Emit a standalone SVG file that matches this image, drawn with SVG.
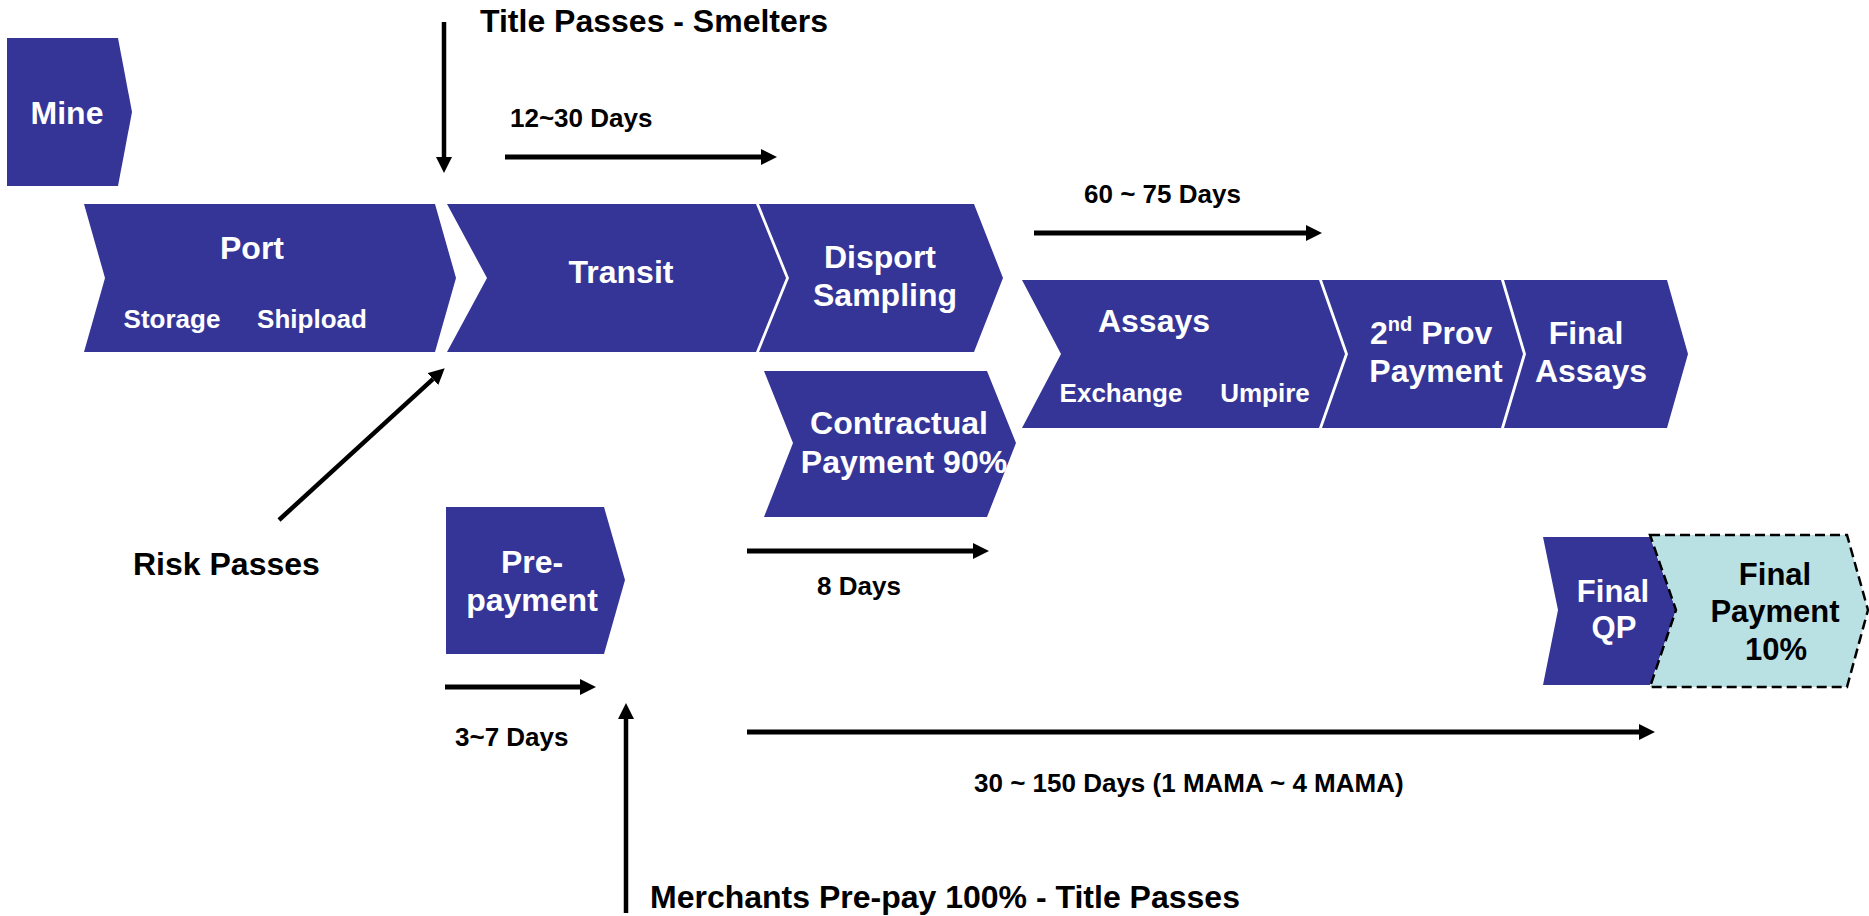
<svg xmlns="http://www.w3.org/2000/svg" width="1869" height="916" viewBox="0 0 1869 916">
<defs>
<marker id="ah" markerUnits="userSpaceOnUse" markerWidth="16" markerHeight="16" refX="0" refY="8" orient="auto" viewBox="0 0 16 16">
<path d="M0,0 L16,8 L0,16 z" fill="#000"/>
</marker>
</defs>
<style>
.ch{fill:#353598;}
.fp{fill:#b9e1e3;stroke:#000;stroke-width:2.5;stroke-dasharray:10 5;}
text{font-family:"Liberation Sans",Arial,sans-serif;font-weight:bold;}
.w{fill:#fff;font-size:32px;text-anchor:middle;}
.ws{fill:#fff;font-size:26px;text-anchor:middle;}
.b{fill:#000;font-size:32px;}
.bs{fill:#000;font-size:26px;}
.bc{fill:#000;font-size:31px;text-anchor:middle;}
.ar{stroke:#000;stroke-width:5;fill:none;marker-end:url(#ah);}
.av{stroke:#000;stroke-width:4.5;fill:none;marker-end:url(#ah);}
</style>
<rect width="1869" height="916" fill="#fff"/>

<g id="mine">
<polygon class="ch" points="7,38 118,38 132,112 118,186 7,186"/>
<text class="w" x="67" y="124">Mine</text>
</g>
<g id="port">
<polygon class="ch" points="84,204 435,204 456,278 435,352 84,352 105,278"/>
<text class="w" x="252" y="259">Port</text>
<text class="ws" x="172" y="328">Storage</text>
<text class="ws" x="312" y="328">Shipload</text>
</g>
<g id="transit">
<polygon class="ch" points="447,204 756,204 786,278 756,352 447,352 487,278"/>
<text class="w" x="621" y="283">Transit</text>
</g>
<g id="disport">
<polygon class="ch" points="759,204 974,204 1003,278 974,352 759,352 789,278"/>
<text class="w" x="880" y="268">Disport</text>
<text class="w" x="885" y="306">Sampling</text>
</g>
<g id="contractual">
<polygon class="ch" points="764,371 987,371 1016,443 987,517 764,517 793,443"/>
<text class="w" x="899" y="434">Contractual</text>
<text class="w" x="904" y="473">Payment 90%</text>
</g>
<g id="assays">
<polygon class="ch" points="1022,280 1319,280 1345,354 1319,428 1022,428 1061,354"/>
<text class="w" x="1154" y="332">Assays</text>
<text class="ws" x="1121" y="402">Exchange</text>
<text class="ws" x="1265" y="402">Umpire</text>
</g>
<g id="prov">
<polygon class="ch" points="1322,280 1501,280 1523,354 1501,428 1322,428 1348,354"/>
<text class="w" x="1370" y="344" text-anchor="start" style="text-anchor:start">2<tspan font-size="20" dy="-13">nd</tspan><tspan dy="13"> Prov</tspan></text>
<text class="w" x="1436" y="382">Payment</text>
</g>
<g id="final-assays">
<polygon class="ch" points="1504,280 1667,280 1688,354 1667,428 1504,428 1526,354"/>
<text class="w" x="1586" y="344">Final</text>
<text class="w" x="1591" y="382">Assays</text>
</g>
<g id="prepayment">
<polygon class="ch" points="446,507 604,507 625,580 604,654 446,654"/>
<text class="w" x="532" y="573">Pre-</text>
<text class="w" x="532" y="611">payment</text>
</g>
<g id="final-qp">
<polygon class="ch" points="1543,537 1650,537 1676,610 1650,685 1543,685 1558,610"/>
<text class="w" x="1613" y="602" style="font-size:31px">Final</text>
<text class="w" x="1614" y="638" style="font-size:31px">QP</text>
</g>
<g id="final-payment">
<polygon class="fp" points="1650,535 1847,535 1868,610 1847,687 1650,687 1676,610"/>
<text class="bc" x="1775" y="585">Final</text>
<text class="bc" x="1775" y="622">Payment</text>
<text class="bc" x="1776" y="660">10%</text>
</g>

<g id="connectors">
<line class="av" x1="444" y1="22" x2="444" y2="157"/>
<line class="ar" x1="505" y1="157" x2="761" y2="157"/>
<line class="ar" x1="1034" y1="233" x2="1306" y2="233"/>
<line class="av" x1="279" y1="520" x2="432.9" y2="379.1"/>
<line class="ar" x1="747" y1="551" x2="973" y2="551"/>
<line class="ar" x1="445" y1="687" x2="580" y2="687"/>
<line class="ar" x1="747" y1="732" x2="1639" y2="732"/>
<line class="av" x1="626" y1="913" x2="626" y2="719"/>
</g>

<g id="labels">
<text class="b" x="480" y="32">Title Passes - Smelters</text>
<text class="bs" x="510" y="127">12~30 Days</text>
<text class="bs" x="1084" y="203">60 ~ 75 Days</text>
<text class="b" x="133" y="575">Risk Passes</text>
<text class="bs" x="817" y="595">8 Days</text>
<text class="bs" x="455" y="746">3~7 Days</text>
<text class="bs" x="974" y="792">30 ~ 150 Days (1 MAMA ~ 4 MAMA)</text>
<text class="b" x="650" y="908">Merchants Pre-pay 100% - Title Passes</text>
</g>
</svg>
